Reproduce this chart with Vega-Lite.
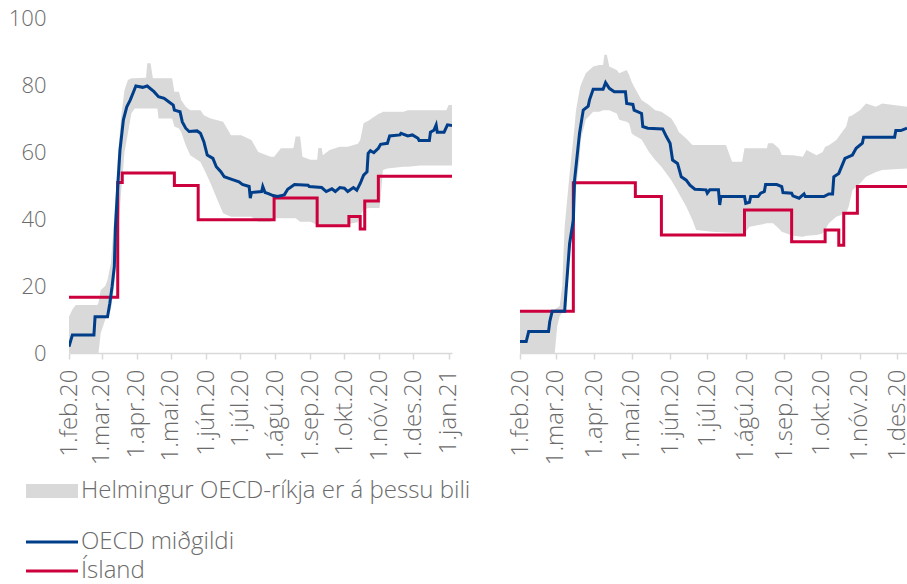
{
  "$schema": "https://vega.github.io/schema/vega-lite/v6.json",
  "padding": {"left": 8, "top": 7, "right": 0, "bottom": 0},
  "background": "white",
  "spacing": 47,
  "config": {
    "font": "Open Sans",
    "view": {"stroke": null},
    "axis": {"labelFont": "Open Sans", "labelFontSize": 24, "labelFontWeight": 300, "labelColor": "#6b6b6b", "title": null, "grid": false},
    "legend": {"labelFont": "Open Sans", "labelFontSize": 24, "labelFontWeight": 300, "labelColor": "#6b6b6b", "labelLimit": 600, "padding": 0, "titlePadding": 0}
  },
  "resolve": {"scale": {"x": "independent"}},
  "datasets": {
    "band": [
      {"p":"L","d":"2020-02-01","lo":0,"hi":10.8},
      {"p":"L","d":"2020-02-04","lo":0,"hi":13},
      {"p":"L","d":"2020-02-07","lo":0,"hi":14.3},
      {"p":"L","d":"2020-02-26","lo":0,"hi":14.3},
      {"p":"L","d":"2020-02-27","lo":0,"hi":15},
      {"p":"L","d":"2020-02-29","lo":6,"hi":18.8},
      {"p":"L","d":"2020-03-04","lo":10,"hi":20},
      {"p":"L","d":"2020-03-06","lo":11,"hi":21.8},
      {"p":"L","d":"2020-03-09","lo":13,"hi":26.9},
      {"p":"L","d":"2020-03-12","lo":20,"hi":40.7},
      {"p":"L","d":"2020-03-15","lo":34,"hi":57.6},
      {"p":"L","d":"2020-03-18","lo":48,"hi":70.5},
      {"p":"L","d":"2020-03-21","lo":60,"hi":78.5},
      {"p":"L","d":"2020-03-24","lo":65.6,"hi":81.5},
      {"p":"L","d":"2020-03-27","lo":71.5,"hi":82},
      {"p":"L","d":"2020-03-30","lo":73,"hi":82},
      {"p":"L","d":"2020-04-09","lo":73,"hi":82.2},
      {"p":"L","d":"2020-04-10","lo":73,"hi":86.5},
      {"p":"L","d":"2020-04-13","lo":73,"hi":86.5},
      {"p":"L","d":"2020-04-15","lo":73,"hi":82},
      {"p":"L","d":"2020-04-19","lo":73,"hi":82},
      {"p":"L","d":"2020-04-20","lo":70,"hi":82},
      {"p":"L","d":"2020-05-02","lo":70,"hi":82},
      {"p":"L","d":"2020-05-04","lo":67.6,"hi":78},
      {"p":"L","d":"2020-05-08","lo":67,"hi":78},
      {"p":"L","d":"2020-05-10","lo":66,"hi":75.5},
      {"p":"L","d":"2020-05-14","lo":62,"hi":73.5},
      {"p":"L","d":"2020-05-18","lo":59,"hi":72.5},
      {"p":"L","d":"2020-05-27","lo":57,"hi":72.5},
      {"p":"L","d":"2020-05-30","lo":55,"hi":71},
      {"p":"L","d":"2020-06-05","lo":50.6,"hi":70},
      {"p":"L","d":"2020-06-11","lo":45.7,"hi":69.5},
      {"p":"L","d":"2020-06-16","lo":41.7,"hi":69},
      {"p":"L","d":"2020-06-23","lo":40.7,"hi":65},
      {"p":"L","d":"2020-07-02","lo":40.7,"hi":65},
      {"p":"L","d":"2020-07-11","lo":40.7,"hi":63.6},
      {"p":"L","d":"2020-07-17","lo":39.2,"hi":60},
      {"p":"L","d":"2020-07-28","lo":39.2,"hi":58.6},
      {"p":"L","d":"2020-07-31","lo":40.2,"hi":58.6},
      {"p":"L","d":"2020-08-06","lo":40.2,"hi":61.1},
      {"p":"L","d":"2020-08-17","lo":40.2,"hi":61.1},
      {"p":"L","d":"2020-08-19","lo":40.2,"hi":64.6},
      {"p":"L","d":"2020-08-23","lo":39.2,"hi":64.6},
      {"p":"L","d":"2020-08-25","lo":39.2,"hi":58.6},
      {"p":"L","d":"2020-09-01","lo":39.2,"hi":57.7},
      {"p":"L","d":"2020-09-07","lo":38.2,"hi":57.7},
      {"p":"L","d":"2020-09-08","lo":38.2,"hi":61.2},
      {"p":"L","d":"2020-09-11","lo":38.2,"hi":61.2},
      {"p":"L","d":"2020-09-12","lo":38,"hi":59},
      {"p":"L","d":"2020-09-18","lo":38,"hi":60.6},
      {"p":"L","d":"2020-09-27","lo":38,"hi":61.6},
      {"p":"L","d":"2020-10-04","lo":38.5,"hi":61.6},
      {"p":"L","d":"2020-10-13","lo":39,"hi":62.5},
      {"p":"L","d":"2020-10-15","lo":40.7,"hi":63.6},
      {"p":"L","d":"2020-10-18","lo":43,"hi":68.6},
      {"p":"L","d":"2020-10-23","lo":43.3,"hi":69.5},
      {"p":"L","d":"2020-10-25","lo":43.3,"hi":70},
      {"p":"L","d":"2020-11-01","lo":43.3,"hi":71.6},
      {"p":"L","d":"2020-11-02","lo":46,"hi":71.6},
      {"p":"L","d":"2020-11-04","lo":54.6,"hi":72},
      {"p":"L","d":"2020-11-08","lo":55.1,"hi":72},
      {"p":"L","d":"2020-11-22","lo":55.6,"hi":72},
      {"p":"L","d":"2020-11-26","lo":55.6,"hi":72.5},
      {"p":"L","d":"2020-12-07","lo":56,"hi":72.5},
      {"p":"L","d":"2020-12-30","lo":56,"hi":72.5},
      {"p":"L","d":"2021-01-01","lo":56,"hi":74},
      {"p":"L","d":"2021-01-04","lo":56,"hi":74},
      {"p":"R","d":"2020-02-01","lo":0,"hi":12.5},
      {"p":"R","d":"2020-02-27","lo":0,"hi":12.5},
      {"p":"R","d":"2020-02-29","lo":0,"hi":13},
      {"p":"R","d":"2020-03-02","lo":8,"hi":13.5},
      {"p":"R","d":"2020-03-04","lo":11,"hi":14},
      {"p":"R","d":"2020-03-06","lo":12,"hi":20},
      {"p":"R","d":"2020-03-08","lo":13.8,"hi":37.7},
      {"p":"R","d":"2020-03-12","lo":28.9,"hi":53.6},
      {"p":"R","d":"2020-03-16","lo":45,"hi":67.6},
      {"p":"R","d":"2020-03-17","lo":48.8,"hi":72},
      {"p":"R","d":"2020-03-20","lo":58,"hi":78.5},
      {"p":"R","d":"2020-03-21","lo":63.7,"hi":80},
      {"p":"R","d":"2020-03-25","lo":69.6,"hi":83.5},
      {"p":"R","d":"2020-03-31","lo":72,"hi":85.5},
      {"p":"R","d":"2020-04-05","lo":72,"hi":86},
      {"p":"R","d":"2020-04-08","lo":72.5,"hi":86},
      {"p":"R","d":"2020-04-09","lo":72.5,"hi":89},
      {"p":"R","d":"2020-04-11","lo":72.5,"hi":89},
      {"p":"R","d":"2020-04-13","lo":72.5,"hi":85.5},
      {"p":"R","d":"2020-04-19","lo":71.5,"hi":84.5},
      {"p":"R","d":"2020-04-21","lo":69.6,"hi":83.5},
      {"p":"R","d":"2020-04-27","lo":69,"hi":84.5},
      {"p":"R","d":"2020-04-29","lo":68.5,"hi":83},
      {"p":"R","d":"2020-05-01","lo":65.6,"hi":81},
      {"p":"R","d":"2020-05-03","lo":65,"hi":79.5},
      {"p":"R","d":"2020-05-09","lo":63.7,"hi":75.5},
      {"p":"R","d":"2020-05-15","lo":60,"hi":74},
      {"p":"R","d":"2020-05-20","lo":57.6,"hi":72.5},
      {"p":"R","d":"2020-05-25","lo":55.6,"hi":72},
      {"p":"R","d":"2020-06-02","lo":51.6,"hi":70},
      {"p":"R","d":"2020-06-06","lo":49,"hi":67.6},
      {"p":"R","d":"2020-06-08","lo":47.7,"hi":66},
      {"p":"R","d":"2020-06-14","lo":43.7,"hi":64},
      {"p":"R","d":"2020-06-19","lo":39.7,"hi":62.1},
      {"p":"R","d":"2020-06-22","lo":36.7,"hi":62.1},
      {"p":"R","d":"2020-07-05","lo":36.2,"hi":62.1},
      {"p":"R","d":"2020-07-16","lo":36,"hi":62.1},
      {"p":"R","d":"2020-07-21","lo":35.9,"hi":57.1},
      {"p":"R","d":"2020-07-29","lo":35.7,"hi":57.1},
      {"p":"R","d":"2020-07-31","lo":35.7,"hi":61.1},
      {"p":"R","d":"2020-08-04","lo":37.7,"hi":61.1},
      {"p":"R","d":"2020-08-18","lo":38.7,"hi":61.1},
      {"p":"R","d":"2020-08-19","lo":38.7,"hi":62.6},
      {"p":"R","d":"2020-08-23","lo":38.7,"hi":62.6},
      {"p":"R","d":"2020-08-28","lo":37,"hi":61},
      {"p":"R","d":"2020-08-30","lo":36.2,"hi":59.1},
      {"p":"R","d":"2020-09-08","lo":35,"hi":59},
      {"p":"R","d":"2020-09-16","lo":34.7,"hi":58.6},
      {"p":"R","d":"2020-09-19","lo":35,"hi":60.6},
      {"p":"R","d":"2020-09-27","lo":35.2,"hi":59},
      {"p":"R","d":"2020-10-02","lo":35.7,"hi":60},
      {"p":"R","d":"2020-10-04","lo":36.7,"hi":61.6},
      {"p":"R","d":"2020-10-07","lo":38.7,"hi":62},
      {"p":"R","d":"2020-10-13","lo":40.7,"hi":63.6},
      {"p":"R","d":"2020-10-21","lo":41.8,"hi":67.6},
      {"p":"R","d":"2020-10-23","lo":43.7,"hi":70.5},
      {"p":"R","d":"2020-10-26","lo":48.6,"hi":71},
      {"p":"R","d":"2020-11-01","lo":50.6,"hi":72.5},
      {"p":"R","d":"2020-11-06","lo":52.6,"hi":74.5},
      {"p":"R","d":"2020-11-14","lo":54,"hi":73.5},
      {"p":"R","d":"2020-11-19","lo":54.6,"hi":74.5},
      {"p":"R","d":"2020-12-09","lo":55.1,"hi":73.5}
    ],
    "lines": [
      {"p":"L","s":"OECD miðgildi","d":"2020-02-01","v":1.9},
      {"p":"L","s":"OECD miðgildi","d":"2020-02-04","v":5.4},
      {"p":"L","s":"OECD miðgildi","d":"2020-02-23","v":5.4},
      {"p":"L","s":"OECD miðgildi","d":"2020-02-24","v":10.8},
      {"p":"L","s":"OECD miðgildi","d":"2020-03-06","v":10.8},
      {"p":"L","s":"OECD miðgildi","d":"2020-03-08","v":14.8},
      {"p":"L","s":"OECD miðgildi","d":"2020-03-10","v":19.8},
      {"p":"L","s":"OECD miðgildi","d":"2020-03-12","v":25.8},
      {"p":"L","s":"OECD miðgildi","d":"2020-03-13","v":37.7},
      {"p":"L","s":"OECD miðgildi","d":"2020-03-15","v":49.7},
      {"p":"L","s":"OECD miðgildi","d":"2020-03-17","v":60.6},
      {"p":"L","s":"OECD miðgildi","d":"2020-03-20","v":69.6},
      {"p":"L","s":"OECD miðgildi","d":"2020-03-23","v":73.5},
      {"p":"L","s":"OECD miðgildi","d":"2020-03-26","v":75.5},
      {"p":"L","s":"OECD miðgildi","d":"2020-03-29","v":78},
      {"p":"L","s":"OECD miðgildi","d":"2020-03-31","v":79.7},
      {"p":"L","s":"OECD miðgildi","d":"2020-04-06","v":79.3},
      {"p":"L","s":"OECD miðgildi","d":"2020-04-10","v":79.7},
      {"p":"L","s":"OECD miðgildi","d":"2020-04-16","v":78},
      {"p":"L","s":"OECD miðgildi","d":"2020-04-20","v":76.5},
      {"p":"L","s":"OECD miðgildi","d":"2020-04-25","v":76},
      {"p":"L","s":"OECD miðgildi","d":"2020-04-29","v":75},
      {"p":"L","s":"OECD miðgildi","d":"2020-05-03","v":74},
      {"p":"L","s":"OECD miðgildi","d":"2020-05-04","v":72.5},
      {"p":"L","s":"OECD miðgildi","d":"2020-05-09","v":72},
      {"p":"L","s":"OECD miðgildi","d":"2020-05-11","v":69},
      {"p":"L","s":"OECD miðgildi","d":"2020-05-14","v":67.1},
      {"p":"L","s":"OECD miðgildi","d":"2020-05-17","v":66.1},
      {"p":"L","s":"OECD miðgildi","d":"2020-05-24","v":66.3},
      {"p":"L","s":"OECD miðgildi","d":"2020-05-27","v":65.6},
      {"p":"L","s":"OECD miðgildi","d":"2020-05-30","v":63.1},
      {"p":"L","s":"OECD miðgildi","d":"2020-06-02","v":59.1},
      {"p":"L","s":"OECD miðgildi","d":"2020-06-07","v":58.1},
      {"p":"L","s":"OECD miðgildi","d":"2020-06-10","v":55.6},
      {"p":"L","s":"OECD miðgildi","d":"2020-06-14","v":54.1},
      {"p":"L","s":"OECD miðgildi","d":"2020-06-17","v":52.6},
      {"p":"L","s":"OECD miðgildi","d":"2020-06-23","v":51.9},
      {"p":"L","s":"OECD miðgildi","d":"2020-06-30","v":51.1},
      {"p":"L","s":"OECD miðgildi","d":"2020-07-03","v":50.3},
      {"p":"L","s":"OECD miðgildi","d":"2020-07-09","v":49.7},
      {"p":"L","s":"OECD miðgildi","d":"2020-07-10","v":46.2},
      {"p":"L","s":"OECD miðgildi","d":"2020-07-11","v":47.9},
      {"p":"L","s":"OECD miðgildi","d":"2020-07-20","v":48.2},
      {"p":"L","s":"OECD miðgildi","d":"2020-07-21","v":49.7},
      {"p":"L","s":"OECD miðgildi","d":"2020-07-23","v":47.9},
      {"p":"L","s":"OECD miðgildi","d":"2020-07-26","v":47.6},
      {"p":"L","s":"OECD miðgildi","d":"2020-07-30","v":47},
      {"p":"L","s":"OECD miðgildi","d":"2020-08-03","v":46.7},
      {"p":"L","s":"OECD miðgildi","d":"2020-08-09","v":47.2},
      {"p":"L","s":"OECD miðgildi","d":"2020-08-12","v":48.9},
      {"p":"L","s":"OECD miðgildi","d":"2020-08-18","v":50.3},
      {"p":"L","s":"OECD miðgildi","d":"2020-08-30","v":50.1},
      {"p":"L","s":"OECD miðgildi","d":"2020-08-31","v":49.7},
      {"p":"L","s":"OECD miðgildi","d":"2020-09-11","v":49.4},
      {"p":"L","s":"OECD miðgildi","d":"2020-09-15","v":48.2},
      {"p":"L","s":"OECD miðgildi","d":"2020-09-20","v":49},
      {"p":"L","s":"OECD miðgildi","d":"2020-09-23","v":48.2},
      {"p":"L","s":"OECD miðgildi","d":"2020-09-27","v":49.4},
      {"p":"L","s":"OECD miðgildi","d":"2020-10-01","v":49.2},
      {"p":"L","s":"OECD miðgildi","d":"2020-10-04","v":48.2},
      {"p":"L","s":"OECD miðgildi","d":"2020-10-09","v":49.4},
      {"p":"L","s":"OECD miðgildi","d":"2020-10-12","v":48.6},
      {"p":"L","s":"OECD miðgildi","d":"2020-10-15","v":50.6},
      {"p":"L","s":"OECD miðgildi","d":"2020-10-18","v":53.1},
      {"p":"L","s":"OECD miðgildi","d":"2020-10-21","v":54.1},
      {"p":"L","s":"OECD miðgildi","d":"2020-10-22","v":59.6},
      {"p":"L","s":"OECD miðgildi","d":"2020-10-24","v":60.4},
      {"p":"L","s":"OECD miðgildi","d":"2020-10-27","v":59.8},
      {"p":"L","s":"OECD miðgildi","d":"2020-10-31","v":61.1},
      {"p":"L","s":"OECD miðgildi","d":"2020-11-02","v":62.3},
      {"p":"L","s":"OECD miðgildi","d":"2020-11-08","v":62.6},
      {"p":"L","s":"OECD miðgildi","d":"2020-11-10","v":64.8},
      {"p":"L","s":"OECD miðgildi","d":"2020-11-19","v":65.1},
      {"p":"L","s":"OECD miðgildi","d":"2020-11-20","v":65.6},
      {"p":"L","s":"OECD miðgildi","d":"2020-11-26","v":64.8},
      {"p":"L","s":"OECD miðgildi","d":"2020-11-30","v":65.1},
      {"p":"L","s":"OECD miðgildi","d":"2020-12-05","v":64.1},
      {"p":"L","s":"OECD miðgildi","d":"2020-12-06","v":63.4},
      {"p":"L","s":"OECD miðgildi","d":"2020-12-15","v":63.4},
      {"p":"L","s":"OECD miðgildi","d":"2020-12-16","v":65.9},
      {"p":"L","s":"OECD miðgildi","d":"2020-12-19","v":66.5},
      {"p":"L","s":"OECD miðgildi","d":"2020-12-21","v":68.1},
      {"p":"L","s":"OECD miðgildi","d":"2020-12-22","v":65.9},
      {"p":"L","s":"OECD miðgildi","d":"2020-12-28","v":65.9},
      {"p":"L","s":"OECD miðgildi","d":"2020-12-31","v":68.1},
      {"p":"L","s":"OECD miðgildi","d":"2021-01-04","v":67.9},
      {"p":"L","s":"Ísland","d":"2020-02-01","v":16.67},
      {"p":"L","s":"Ísland","d":"2020-03-15","v":50.93},
      {"p":"L","s":"Ísland","d":"2020-03-19","v":53.7},
      {"p":"L","s":"Ísland","d":"2020-05-04","v":50},
      {"p":"L","s":"Ísland","d":"2020-05-25","v":39.81},
      {"p":"L","s":"Ísland","d":"2020-07-31","v":46.3},
      {"p":"L","s":"Ísland","d":"2020-09-07","v":37.96},
      {"p":"L","s":"Ísland","d":"2020-10-05","v":40.74},
      {"p":"L","s":"Ísland","d":"2020-10-15","v":37.04},
      {"p":"L","s":"Ísland","d":"2020-10-19","v":45.37},
      {"p":"L","s":"Ísland","d":"2020-10-31","v":52.78},
      {"p":"L","s":"Ísland","d":"2021-01-04","v":52.78},
      {"p":"R","s":"OECD miðgildi","d":"2020-02-01","v":3.4},
      {"p":"R","s":"OECD miðgildi","d":"2020-02-06","v":3.4},
      {"p":"R","s":"OECD miðgildi","d":"2020-02-08","v":6.4},
      {"p":"R","s":"OECD miðgildi","d":"2020-02-24","v":6.4},
      {"p":"R","s":"OECD miðgildi","d":"2020-02-25","v":9.4},
      {"p":"R","s":"OECD miðgildi","d":"2020-02-27","v":12.5},
      {"p":"R","s":"OECD miðgildi","d":"2020-03-08","v":12.5},
      {"p":"R","s":"OECD miðgildi","d":"2020-03-09","v":17.8},
      {"p":"R","s":"OECD miðgildi","d":"2020-03-12","v":32.7},
      {"p":"R","s":"OECD miðgildi","d":"2020-03-15","v":39.7},
      {"p":"R","s":"OECD miðgildi","d":"2020-03-16","v":51.6},
      {"p":"R","s":"OECD miðgildi","d":"2020-03-18","v":58.6},
      {"p":"R","s":"OECD miðgildi","d":"2020-03-20","v":65.6},
      {"p":"R","s":"OECD miðgildi","d":"2020-03-23","v":72.5},
      {"p":"R","s":"OECD miðgildi","d":"2020-03-27","v":73.7},
      {"p":"R","s":"OECD miðgildi","d":"2020-03-28","v":75.5},
      {"p":"R","s":"OECD miðgildi","d":"2020-03-31","v":78.7},
      {"p":"R","s":"OECD miðgildi","d":"2020-04-08","v":78.7},
      {"p":"R","s":"OECD miðgildi","d":"2020-04-10","v":80.7},
      {"p":"R","s":"OECD miðgildi","d":"2020-04-13","v":79},
      {"p":"R","s":"OECD miðgildi","d":"2020-04-17","v":78},
      {"p":"R","s":"OECD miðgildi","d":"2020-04-26","v":78},
      {"p":"R","s":"OECD miðgildi","d":"2020-04-27","v":74.5},
      {"p":"R","s":"OECD miðgildi","d":"2020-05-02","v":74.2},
      {"p":"R","s":"OECD miðgildi","d":"2020-05-03","v":72.5},
      {"p":"R","s":"OECD miðgildi","d":"2020-05-09","v":71.5},
      {"p":"R","s":"OECD miðgildi","d":"2020-05-10","v":67.6},
      {"p":"R","s":"OECD miðgildi","d":"2020-05-14","v":67.1},
      {"p":"R","s":"OECD miðgildi","d":"2020-05-26","v":66.9},
      {"p":"R","s":"OECD miðgildi","d":"2020-05-29","v":64.6},
      {"p":"R","s":"OECD miðgildi","d":"2020-06-01","v":62.6},
      {"p":"R","s":"OECD miðgildi","d":"2020-06-03","v":57.6},
      {"p":"R","s":"OECD miðgildi","d":"2020-06-07","v":56.6},
      {"p":"R","s":"OECD miðgildi","d":"2020-06-10","v":52.6},
      {"p":"R","s":"OECD miðgildi","d":"2020-06-14","v":51.6},
      {"p":"R","s":"OECD miðgildi","d":"2020-06-17","v":50.1},
      {"p":"R","s":"OECD miðgildi","d":"2020-06-21","v":48.9},
      {"p":"R","s":"OECD miðgildi","d":"2020-06-30","v":48.7},
      {"p":"R","s":"OECD miðgildi","d":"2020-07-01","v":47.7},
      {"p":"R","s":"OECD miðgildi","d":"2020-07-03","v":48.7},
      {"p":"R","s":"OECD miðgildi","d":"2020-07-10","v":48.7},
      {"p":"R","s":"OECD miðgildi","d":"2020-07-11","v":44.2},
      {"p":"R","s":"OECD miðgildi","d":"2020-07-12","v":46.7},
      {"p":"R","s":"OECD miðgildi","d":"2020-07-31","v":46.7},
      {"p":"R","s":"OECD miðgildi","d":"2020-08-01","v":44.7},
      {"p":"R","s":"OECD miðgildi","d":"2020-08-04","v":45},
      {"p":"R","s":"OECD miðgildi","d":"2020-08-05","v":46.7},
      {"p":"R","s":"OECD miðgildi","d":"2020-08-11","v":46.7},
      {"p":"R","s":"OECD miðgildi","d":"2020-08-13","v":47.7},
      {"p":"R","s":"OECD miðgildi","d":"2020-08-16","v":48.2},
      {"p":"R","s":"OECD miðgildi","d":"2020-08-17","v":50.3},
      {"p":"R","s":"OECD miðgildi","d":"2020-08-26","v":50.3},
      {"p":"R","s":"OECD miðgildi","d":"2020-08-30","v":49.7},
      {"p":"R","s":"OECD miðgildi","d":"2020-08-31","v":47.9},
      {"p":"R","s":"OECD miðgildi","d":"2020-09-07","v":47.7},
      {"p":"R","s":"OECD miðgildi","d":"2020-09-08","v":46.9},
      {"p":"R","s":"OECD miðgildi","d":"2020-09-13","v":46.2},
      {"p":"R","s":"OECD miðgildi","d":"2020-09-17","v":47.5},
      {"p":"R","s":"OECD miðgildi","d":"2020-09-18","v":46.7},
      {"p":"R","s":"OECD miðgildi","d":"2020-10-03","v":46.7},
      {"p":"R","s":"OECD miðgildi","d":"2020-10-07","v":47.5},
      {"p":"R","s":"OECD miðgildi","d":"2020-10-10","v":47.5},
      {"p":"R","s":"OECD miðgildi","d":"2020-10-11","v":52.6},
      {"p":"R","s":"OECD miðgildi","d":"2020-10-15","v":53.6},
      {"p":"R","s":"OECD miðgildi","d":"2020-10-20","v":58.1},
      {"p":"R","s":"OECD miðgildi","d":"2020-10-26","v":59.1},
      {"p":"R","s":"OECD miðgildi","d":"2020-10-29","v":61.1},
      {"p":"R","s":"OECD miðgildi","d":"2020-11-03","v":62.6},
      {"p":"R","s":"OECD miðgildi","d":"2020-11-04","v":64.4},
      {"p":"R","s":"OECD miðgildi","d":"2020-11-29","v":64.4},
      {"p":"R","s":"OECD miðgildi","d":"2020-11-30","v":66.4},
      {"p":"R","s":"OECD miðgildi","d":"2020-12-04","v":66.4},
      {"p":"R","s":"OECD miðgildi","d":"2020-12-09","v":67.1},
      {"p":"R","s":"Ísland","d":"2020-02-01","v":12.5},
      {"p":"R","s":"Ísland","d":"2020-03-15","v":50.8},
      {"p":"R","s":"Ísland","d":"2020-05-04","v":46.7},
      {"p":"R","s":"Ísland","d":"2020-05-25","v":35.2},
      {"p":"R","s":"Ísland","d":"2020-07-31","v":42.7},
      {"p":"R","s":"Ísland","d":"2020-09-07","v":33.2},
      {"p":"R","s":"Ísland","d":"2020-10-04","v":36.7},
      {"p":"R","s":"Ísland","d":"2020-10-15","v":32.2},
      {"p":"R","s":"Ísland","d":"2020-10-19","v":41.7},
      {"p":"R","s":"Ísland","d":"2020-10-30","v":49.7},
      {"p":"R","s":"Ísland","d":"2020-12-09","v":49.7}
    ]
  },
  "hconcat": [
    {
      "width": 383,
      "height": 335,
      "encoding": {
        "x": {"field": "d", "type": "temporal",
          "scale": {"type": "utc", "domain": [{"year": 2020, "month": 2, "date": 1, "utc": true}, {"year": 2021, "month": 1, "date": 4, "utc": true}]},
          "axis": {"tickCount": {"interval": "month", "step": 1}, "labelExpr": "'1.' + ['jan','feb','mar','apr','maí','jún','júl','ágú','sep','okt','nóv','des'][utcmonth(datum.value)] + '.' + utcFormat(datum.value, '%y')", "labelAngle": -90, "labelAlign": "right", "labelBaseline": "middle", "labelPadding": 10, "tickSize": 6, "tickColor": "#d9d9d9", "tickWidth": 1.5, "domainColor": "#d9d9d9", "domainWidth": 1.5, "labelFlush": false, "labelOverlap": false}
        }
      },
      "layer": [
        {
          "data": {"name": "band"},
          "transform": [{"filter": "datum.p === 'L'"}],
          "mark": {"type": "area", "clip": true},
          "encoding": {
            "y": {"field": "hi", "type": "quantitative", "scale": {"domain": [0, 100]}, "axis": {"values": [0, 20, 40, 60, 80, 100], "ticks": false, "tickSize": 0, "domain": false, "labelPadding": 23, "labelFontSize": 22}},
            "y2": {"field": "lo"},
            "fill": {"datum": "Helmingur OECD-ríkja er á þessu bili", "type": "nominal",
              "scale": {"range": ["#d9d9d9"]},
              "legend": {"orient": "none", "legendX": -43, "legendY": 461, "title": null, "symbolType": "M-5.2,-1.4H5.2V1.4H-5.2Z", "symbolSize": 100, "symbolOffset": 14, "labelOffset": 17, "symbolOpacity": 1, "symbolStrokeWidth": 0, "labelFontSize": 24, "labelColor": "#6b6b6b", "labelLimit": 600, "padding": 0}}
          }
        },
        {
          "data": {"name": "lines"},
          "transform": [{"filter": "datum.p === 'L' && datum.s === 'Ísland'"}],
          "mark": {"type": "line", "interpolate": "step-after", "strokeWidth": 3, "clip": true},
          "encoding": {
            "y": {"field": "v", "type": "quantitative"},
            "stroke": {"field": "s", "type": "nominal",
              "scale": {"domain": ["OECD miðgildi", "Ísland"], "range": ["#003e8a", "#cc003d"]},
              "legend": {"orient": "none", "legendX": -43, "legendY": 512, "title": null, "symbolType": "M-5.2,0H5.2", "symbolSize": 100, "symbolOffset": 14, "labelOffset": 17, "symbolStrokeWidth": 3, "rowPadding": 5, "labelFontSize": 24, "labelColor": "#6b6b6b", "labelLimit": 600, "padding": 0}}
          }
        },
        {
          "data": {"name": "lines"},
          "transform": [{"filter": "datum.p === 'L' && datum.s === 'OECD miðgildi'"}],
          "mark": {"type": "line", "strokeWidth": 3, "clip": true},
          "encoding": {
            "y": {"field": "v", "type": "quantitative"},
            "stroke": {"field": "s", "type": "nominal"}
          }
        }
      ]
    },
    {
      "width": 387,
      "height": 335,
      "encoding": {
        "x": {"field": "d", "type": "temporal",
          "scale": {"type": "utc", "domain": [{"year": 2020, "month": 2, "date": 1, "utc": true}, {"year": 2020, "month": 12, "date": 9, "utc": true}]},
          "axis": {"tickCount": {"interval": "month", "step": 1}, "labelExpr": "'1.' + ['jan','feb','mar','apr','maí','jún','júl','ágú','sep','okt','nóv','des'][utcmonth(datum.value)] + '.' + utcFormat(datum.value, '%y')", "labelAngle": -90, "labelAlign": "right", "labelBaseline": "middle", "labelPadding": 10, "tickSize": 6, "tickColor": "#d9d9d9", "tickWidth": 1.5, "domainColor": "#d9d9d9", "domainWidth": 1.5, "labelFlush": false, "labelOverlap": false}
        }
      },
      "layer": [
        {
          "data": {"name": "band"},
          "transform": [{"filter": "datum.p === 'R'"}],
          "mark": {"type": "area", "clip": true},
          "encoding": {
            "y": {"field": "hi", "type": "quantitative", "scale": {"domain": [0, 100]}, "axis": null},
            "y2": {"field": "lo"},
            "fill": {"datum": "Helmingur OECD-ríkja er á þessu bili", "type": "nominal", "scale": {"range": ["#d9d9d9"]}}
          }
        },
        {
          "data": {"name": "lines"},
          "transform": [{"filter": "datum.p === 'R' && datum.s === 'Ísland'"}],
          "mark": {"type": "line", "interpolate": "step-after", "strokeWidth": 3, "clip": true},
          "encoding": {
            "y": {"field": "v", "type": "quantitative", "axis": null},
            "stroke": {"field": "s", "type": "nominal", "scale": {"domain": ["OECD miðgildi", "Ísland"], "range": ["#003e8a", "#cc003d"]}}
          }
        },
        {
          "data": {"name": "lines"},
          "transform": [{"filter": "datum.p === 'R' && datum.s === 'OECD miðgildi'"}],
          "mark": {"type": "line", "strokeWidth": 3, "clip": true},
          "encoding": {
            "y": {"field": "v", "type": "quantitative", "axis": null},
            "stroke": {"field": "s", "type": "nominal"}
          }
        }
      ]
    }
  ]
}
